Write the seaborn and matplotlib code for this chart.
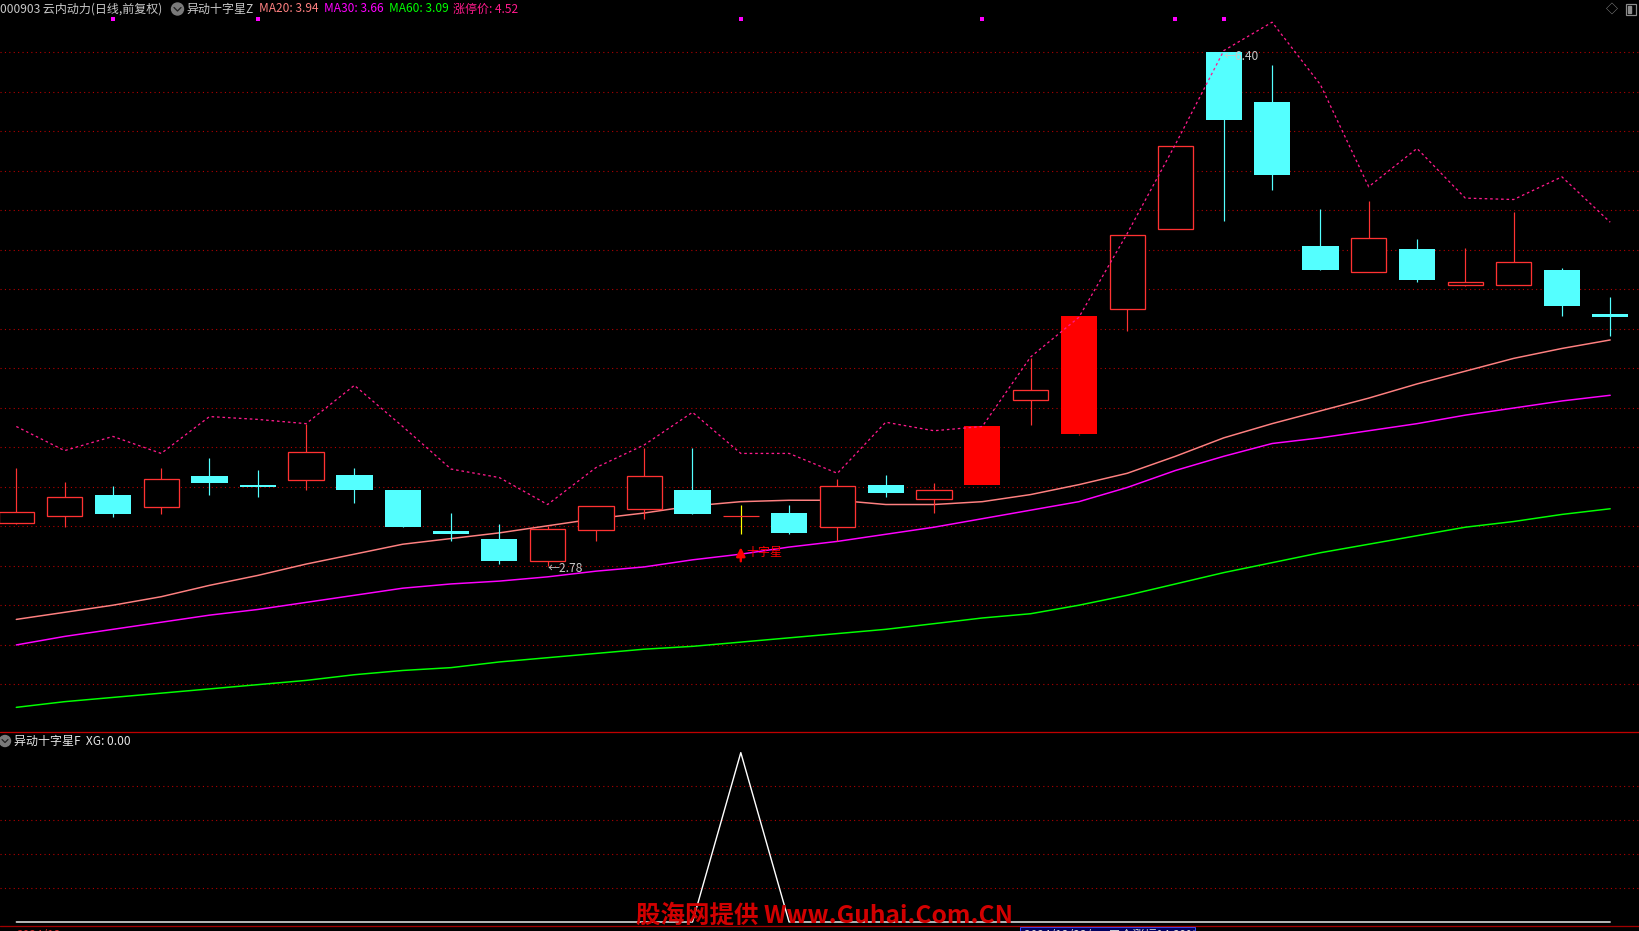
import matplotlib
matplotlib.use("Agg")
import matplotlib.pyplot as plt
import matplotlib.transforms as mtransforms
from matplotlib.patches import Rectangle, Ellipse
from matplotlib.lines import Line2D
import numpy as np
import pandas as pd
import seaborn as sns

# ---------------- data ----------------
opens  = [3.08, 3.13, 3.28, 3.19, 3.41, 3.35, 3.38, 3.42, 3.31, 3.02,
          2.97, 2.81, 3.03, 3.18, 3.31, 3.13, 3.15, 3.05, 3.35, 3.25,
          3.35, 3.95, 3.71, 4.59, 5.15, 6.40, 6.05, 5.03, 4.85, 5.01,
          4.76, 4.76, 4.86, 4.55]
closes = [3.16, 3.26, 3.14, 3.39, 3.36, 3.33, 3.58, 3.31, 3.05, 3.00,
          2.81, 3.04, 3.20, 3.41, 3.14, 3.13, 3.01, 3.34, 3.29, 3.31,
          3.76, 4.02, 4.54, 5.11, 5.74, 5.92, 5.53, 4.86, 5.09, 4.79,
          4.78, 4.92, 4.61, 4.53]
highs  = [3.47, 3.37, 3.34, 3.47, 3.54, 3.45, 3.78, 3.47, 3.31, 3.15,
          3.07, 3.06, 3.20, 3.61, 3.61, 3.21, 3.21, 3.39, 3.42, 3.36,
          3.76, 4.24, 4.54, 5.11, 5.74, 6.40, 6.31, 5.29, 5.35, 5.08,
          5.02, 5.27, 4.88, 4.67]
lows   = [3.07, 3.05, 3.12, 3.14, 3.28, 3.26, 3.31, 3.22, 3.05, 2.95,
          2.79, 2.78, 2.95, 3.11, 3.14, 3.00, 3.00, 2.95, 3.26, 3.15,
          3.35, 3.77, 3.70, 4.43, 5.15, 5.21, 5.43, 4.86, 4.85, 4.78,
          4.75, 4.76, 4.54, 4.40]
solid_up = [20, 22]          # limit-up bars drawn filled

ma20 = [2.40, 2.45, 2.50, 2.56, 2.64, 2.71, 2.79, 2.86, 2.93, 2.97,
        3.01, 3.06, 3.11, 3.15, 3.20, 3.23, 3.24, 3.24, 3.21, 3.21,
        3.23, 3.28, 3.35, 3.43, 3.55, 3.68, 3.78, 3.87, 3.96, 4.06,
        4.15, 4.24, 4.31, 4.37]
ma30 = [2.22, 2.28, 2.33, 2.38, 2.43, 2.47, 2.52, 2.57, 2.62, 2.65,
        2.67, 2.70, 2.74, 2.77, 2.82, 2.86, 2.91, 2.95, 3.00, 3.05,
        3.11, 3.17, 3.23, 3.33, 3.45, 3.55, 3.64, 3.68, 3.73, 3.78,
        3.84, 3.89, 3.94, 3.98]
ma60 = [1.78, 1.82, 1.85, 1.88, 1.91, 1.94, 1.97, 2.01, 2.04, 2.06,
        2.10, 2.13, 2.16, 2.19, 2.21, 2.24, 2.27, 2.30, 2.33, 2.37,
        2.41, 2.44, 2.50, 2.57, 2.65, 2.73, 2.80, 2.87, 2.93, 2.99,
        3.05, 3.09, 3.14, 3.18]
limit_line = [3.76, 3.59, 3.69, 3.57, 3.83, 3.81, 3.78, 4.05, 3.76, 3.46,
              3.40, 3.21, 3.47, 3.63, 3.86, 3.57, 3.57, 3.43, 3.79, 3.73,
              3.76, 4.25, 4.53, 5.12, 5.75, 6.41, 6.61, 6.17, 5.45, 5.72,
              5.37, 5.36, 5.52, 5.20]
xg = [0, 0, 0, 0, 0, 0, 0, 0, 0, 0, 0, 0, 0, 0, 0, 1, 0,
      0, 0, 0, 0, 0, 0, 0, 0, 0, 0, 0, 0, 0, 0, 0, 0, 0]
signal_marks = [2, 5, 15, 20, 24, 25]

title_main = "000903 云内动力(日线,前复权)"
ind_main = "异动十字星Z"
ma_labels = ["MA20: 3.94", "MA30: 3.66", "MA60: 3.09", "涨停价: 4.52"]
ind_sub = "异动十字星F  XG: 0.00"
doji_label = "十字星"
watermark = "股海网提供 Www.Guhai.Com.CN"
footer_left = "2024/12"
footer_info = "2024/12/23/一  五个涨幅14.39%"

# ---------------- style ----------------
W, H = 1639, 931
sns.set_style("dark")
plt.rcParams['font.family'] = ['Noto Sans CJK SC', 'DejaVu Sans']
plt.rcParams['axes.unicode_minus'] = False

C_UP = '#FF3232'
C_DOWN = '#54FFFF'
C_SOLID = '#FF0000'
C_MA20 = '#FF8080'
C_MA30 = '#FF00FF'
C_MA60 = '#00FF00'
C_LIM = '#FF1A8C'
C_GRID = '#B40000'
C_TXT = '#C8C8C8'
PX = 0.72  # one pixel in points at dpi 100
FS = 12 * PX
GRID_LS = (0, (1.0, 3.0))

def fx(x):
    return x / W

def fy(y):
    return 1 - y / H

fig = plt.figure(figsize=(W / 100, H / 100), dpi=100, facecolor='black')

# main panel: pixel rows 0..732
ax = fig.add_axes([0, fy(732), 1, 732 / H])
ax.set_facecolor('black')
hi, lo = max(highs), min(lows)
hi_px, lo_px = 52.0, 565.5
per_px = (hi - lo) / (lo_px - hi_px)
ax.set_ylim(hi - (732 - hi_px) * per_px, hi + hi_px * per_px)
x0_px, step_px = 16.3, 48.3
ax.set_xlim(-x0_px / step_px, (W - x0_px) / step_px)

# dotted grid
for k in range(17):
    ax.axhline(hi - k * (hi - lo) / 13, color=C_GRID, lw=1.1 * PX, ls=GRID_LS, zorder=0)

n = len(opens)
idx = np.arange(n)
BW = 36.3 / step_px
for i in range(n):
    o, c, h, l = opens[i], closes[i], highs[i], lows[i]
    top, bot = max(o, c), min(o, c)
    if c == o:
        ax.vlines(i, l, h, color='#FFFF00', lw=1.2 * PX, zorder=3)
        ax.hlines(o, i - BW / 2, i + BW / 2, color=C_UP, lw=1.2 * PX, zorder=3)
    elif c > o:
        if i in solid_up:
            if h > top:
                ax.vlines(i, top, h, color=C_SOLID, lw=1.2 * PX, zorder=3)
            if l < bot:
                ax.vlines(i, l, bot, color=C_SOLID, lw=1.2 * PX, zorder=3)
            ax.bar(i, top - bot, BW, bot, color=C_SOLID, lw=0, zorder=4)
        else:
            if h > top:
                ax.vlines(i, top, h, color=C_UP, lw=1.2 * PX, zorder=3)
            if l < bot:
                ax.vlines(i, l, bot, color=C_UP, lw=1.2 * PX, zorder=3)
            ax.bar(i, top - bot, BW - 1 / step_px, bot, facecolor='black',
                   edgecolor=C_UP, lw=1.3 * PX, zorder=4)
    else:
        ax.vlines(i, l, h, color=C_DOWN, lw=1.2 * PX, zorder=3)
        ax.bar(i, top - bot, BW, bot, color=C_DOWN, lw=0, zorder=4)

df = pd.DataFrame({'idx': idx, 'ma20': ma20, 'ma30': ma30, 'ma60': ma60,
                   'lim': limit_line})
sns.lineplot(data=df, x='idx', y='ma20', ax=ax, color=C_MA20, lw=1.5 * PX, zorder=2)
sns.lineplot(data=df, x='idx', y='ma30', ax=ax, color=C_MA30, lw=1.5 * PX, zorder=2)
sns.lineplot(data=df, x='idx', y='ma60', ax=ax, color=C_MA60, lw=1.5 * PX, zorder=2)
sns.lineplot(data=df, x='idx', y='lim', ax=ax, color=C_LIM, lw=1.3 * PX,
             linestyle=(0, (2.0, 2.2)), zorder=5)

# signal squares at the top
ax.scatter(signal_marks, [1 - 19 / 732] * len(signal_marks),
           transform=ax.get_xaxis_transform(), marker='s', s=5,
           color='#FF00FF', lw=0, zorder=6)

# high / low labels
i_lo = int(np.argmin(lows))
i_hi = int(np.argmax(highs))
ax.annotate("←" + f"{lows[i_lo]:.2f}", xy=(i_lo, lows[i_lo]), xytext=(0, -3),
            textcoords='offset pixels', ha='left', va='center',
            color=C_TXT, fontsize=FS, zorder=7)
ax.annotate("←" + f"{highs[i_hi]:.2f}", xy=(i_hi, highs[i_hi]), xytext=(0, -4),
            textcoords='offset pixels', ha='left', va='center',
            color=C_TXT, fontsize=FS, zorder=7)

# doji marker
i_x = xg.index(1)
t_tip = mtransforms.offset_copy(ax.transData, fig, x=0, y=-13, units='dots')
t_base = mtransforms.offset_copy(ax.transData, fig, x=0, y=-27, units='dots')
ax.annotate('', xy=(i_x, lows[i_x]), xycoords=t_tip,
            xytext=(i_x, lows[i_x]), textcoords=t_base,
            arrowprops=dict(arrowstyle='-|>', color='#FF0000', lw=2.4 * PX,
                            mutation_scale=13, shrinkA=0, shrinkB=0), zorder=7)
ax.annotate(doji_label, xy=(i_x, lows[i_x]), xytext=(6, -18),
            textcoords='offset pixels', ha='left', va='center',
            color='#FF0000', fontsize=FS, zorder=7)
ax.set_axis_off()

# sub panel: pixel rows 732..925
ax2 = fig.add_axes([0, fy(925), 1, (925 - 732) / H])
ax2.set_facecolor('black')
unit_px = 922 - 752.6
ax2.set_ylim(-3 / unit_px, (922 - 732) / unit_px)
ax2.set_xlim(ax.get_xlim())
for g in [0.2, 0.4, 0.6, 0.8]:
    ax2.axhline(g, color=C_GRID, lw=1.1 * PX, ls=GRID_LS, zorder=0)
sdf = pd.DataFrame({'idx': idx, 'xg': xg})
sns.lineplot(data=sdf, x='idx', y='xg', ax=ax2, color='white', lw=1.4 * PX, zorder=3)
ax2.set_axis_off()

# separators
fig.add_artist(Line2D([0, 1], [fy(732), fy(732)], color='#C00000', lw=1.3 * PX))
fig.add_artist(Line2D([0, 1], [fy(925.5), fy(925.5)], color='#A00000', lw=1.3 * PX))

# header line
fig.text(fx(0), fy(9), title_main, color=C_TXT, fontsize=FS, va='center', ha='left')
fig.add_artist(Ellipse((fx(177.5), fy(9)), 12 / W, 12 / H, color='#7A7A7A'))
fig.add_artist(Line2D([fx(174), fx(177.5), fx(181)], [fy(7.5), fy(11), fy(7.5)],
                      color='#202020', lw=1.3 * PX))
fig.text(fx(186), fy(9), ind_main, color=C_TXT, fontsize=FS, va='center', ha='left')
for lab, xp, col in zip(ma_labels, [259, 324, 389, 453], [C_MA20, C_MA30, C_MA60, C_LIM]):
    fig.text(fx(xp), fy(9), lab, color=col, fontsize=FS, va='center', ha='left')

# right-top icons
fig.text(fx(1612), fy(9.5), "◇", color='#8C8C8C', fontsize=FS, va='center', ha='center')
fig.add_artist(Rectangle((fx(1626), fy(15)), 10 / W, 11 / H, fill=False,
                         ec='#8C8C8C', lw=1.2 * PX))
fig.add_artist(Rectangle((fx(1628), fy(13)), 3 / W, 7 / H, color='#8C8C8C'))

# sub header
fig.add_artist(Ellipse((fx(5), fy(741)), 11 / W, 11 / H, color='#7A7A7A'))
fig.add_artist(Line2D([fx(2), fx(5), fx(8)], [fy(739.5), fy(742.5), fy(739.5)],
                      color='#202020', lw=1.2 * PX))
fig.text(fx(14.5), fy(741), ind_sub, color='#E6E6E6', fontsize=FS, va='center', ha='left')

# footer (cut off at the bottom edge, as in the screenshot)
fig.text(fx(17), fy(935), footer_left, color='#D03030', fontsize=FS, va='center', ha='left')
fig.add_artist(Rectangle((fx(1020), fy(931)), 175 / W, 4 / H, facecolor='#000060',
                         ec='#3050FF', lw=1.0 * PX))
fig.text(fx(1024), fy(936), footer_info, color='#E0E0E0', fontsize=FS, va='center', ha='left')

# watermark
fig.text(fx(636), fy(916), watermark, color='#D20000', fontsize=24.5 * PX,
         fontweight='bold', va='center', ha='left')

fig.savefig('out.png', dpi=100, facecolor='black')
